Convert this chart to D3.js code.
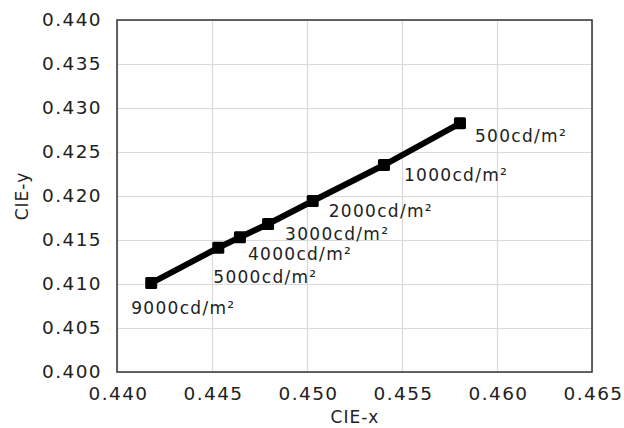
<!DOCTYPE html>
<html>
<head>
<meta charset="utf-8">
<script src="https://cdn.jsdelivr.net/npm/d3@7"></script>
<style>
  body { margin: 0; background: #fff; }
  text { font-family: "DejaVu Sans", sans-serif; fill: #222; }
</style>
</head>
<body>
<svg id="chart" width="624" height="428"></svg>
<script>
// luminance levels and their chromaticity
const luminance = ['500', '1000', '2000', '3000', '4000', '5000', '9000'];
const cieX = [0.45805, 0.45405, 0.4503, 0.44795, 0.44647, 0.44533, 0.4418];
const cieY = [0.42826, 0.42352, 0.41943, 0.41682, 0.41531, 0.41412, 0.4101];
const xTicks = [0.440, 0.445, 0.450, 0.455, 0.460, 0.465];
const yTicks = [0.400, 0.405, 0.410, 0.415, 0.420, 0.425, 0.430, 0.435, 0.440];

// label placement relative to each point (layout only)
const labelOffset = [[15, 19], [20, 16], [16, 16], [17, 16], [8, 23], [-5, 35], [-20, 31]];

const margin = { left: 117, top: 20, right: 32, bottom: 56 };
const width = 624 - margin.left - margin.right;
const height = 428 - margin.top - margin.bottom;

const svg = d3.select('#chart');
const g = svg.append('g').attr('transform', `translate(${margin.left},${margin.top})`);

const x = d3.scaleLinear().domain([0.440, 0.465]).range([0, width]);
const y = d3.scaleLinear().domain([0.400, 0.440]).range([height, 0]);

// grid
g.append('g')
  .call(d3.axisBottom(x).tickValues(xTicks).tickSize(-height).tickFormat(''))
  .attr('transform', `translate(0,${height})`)
  .call(a => a.select('.domain').remove())
  .selectAll('line').attr('stroke', '#d9d9d9').attr('stroke-width', 1.2);
g.append('g')
  .call(d3.axisLeft(y).tickValues(yTicks).tickSize(-width).tickFormat(''))
  .call(a => a.select('.domain').remove())
  .selectAll('line').attr('stroke', '#d9d9d9').attr('stroke-width', 1.2);

// frame
g.append('rect')
  .attr('width', width).attr('height', height)
  .attr('fill', 'none').attr('stroke', '#333').attr('stroke-width', 1.5);

// tick labels
const xAxis = g.append('g')
  .attr('transform', `translate(0,${height})`)
  .call(d3.axisBottom(x).tickValues(xTicks).tickSize(0).tickPadding(15).tickFormat(d3.format('.3f')));
xAxis.select('.domain').remove();
xAxis.selectAll('text')
  .style('font-size', '18.5px').style('letter-spacing', '1.4px')
  .attr('dx', 1).attr('fill', '#222');

const yAxis = g.append('g')
  .call(d3.axisLeft(y).tickValues(yTicks).tickSize(0).tickPadding(15).tickFormat(d3.format('.3f')));
yAxis.select('.domain').remove();
yAxis.selectAll('text')
  .style('font-size', '18.5px').style('letter-spacing', '1.4px')
  .attr('fill', '#222');

// axis titles
svg.append('text')
  .attr('x', 355).attr('y', 423)
  .attr('text-anchor', 'middle').style('font-size', '17px').style('letter-spacing', '1px')
  .text('CIE-x');
svg.append('text')
  .attr('transform', `translate(28,${margin.top + height / 2}) rotate(-90)`)
  .attr('text-anchor', 'middle').style('font-size', '17px').style('letter-spacing', '1px')
  .text('CIE-y');

const points = luminance.map((d, i) => ({ name: d, x: cieX[i], y: cieY[i] }));

g.append('path')
  .datum(points)
  .attr('fill', 'none').attr('stroke', '#000').attr('stroke-width', 6)
  .attr('d', d3.line().x(d => x(d.x)).y(d => y(d.y)));

g.selectAll('rect.marker')
  .data(points)
  .enter()
  .append('rect')
  .attr('class', 'marker')
  .attr('x', d => x(d.x) - 6).attr('y', d => y(d.y) - 6)
  .attr('width', 12).attr('height', 12).attr('rx', 1.5)
  .attr('fill', '#000');

g.selectAll('text.label')
  .data(points)
  .enter()
  .append('text')
  .attr('class', 'label')
  .attr('x', (d, i) => x(d.x) + labelOffset[i][0])
  .attr('y', (d, i) => y(d.y) + labelOffset[i][1])
  .style('font-size', '17px').style('letter-spacing', '1.3px')
  .text(d => `${d.name}cd/m²`);
</script>
</body>
</html>
